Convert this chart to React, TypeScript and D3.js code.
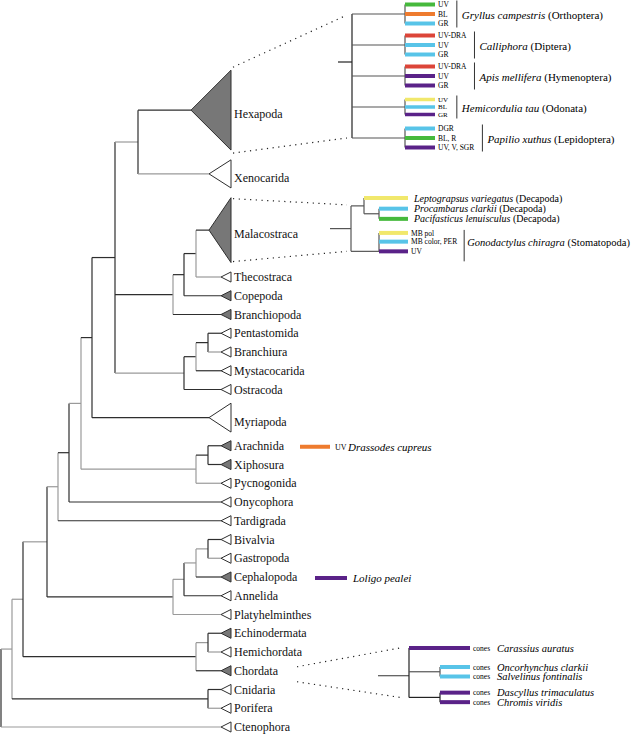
import React from "react";
import * as d3 from "d3";

// ---------- main tree data ----------
const NODE_IDS = ["root", "n12", "n23", "n47", "n58", "n69", "n81", "n92", "n115", "n138", "c173", "c184", "c196", "o184", "o196", "o208", "a196", "a208", "s173", "s184", "s196", "s208", "d196", "d208", "cp208"];
const NODE_PARENTS = ["", "root", "n12", "n23", "n47", "n58", "n69", "n81", "n92", "n115", "n115", "c173", "c184", "n115", "o184", "o196", "n81", "a196", "n47", "s173", "s184", "s196", "n23", "d196", "n12"];
const NODE_DEPTH = [0, 11, 22, 46, 57, 68, 80, 91, 114, 137, 172, 183, 195, 183, 195, 207, 195, 207, 172, 183, 195, 207, 195, 207, 207];
const NODE_VTONE = ["d", "g", "d", "d", "g", "d", "g", "d", "d", "d", "g", "d", "g", "d", "g", "d", "g", "d", "g", "d", "g", "d", "g", "d", "d"];
const NODE_HTONE = ["d", "g", "g", "g", "g", "d", "g", "d", "d", "g", "d", "d", "d", "g", "d", "d", "g", "d", "d", "g", "g", "g", "d", "g", "d"];

const TAXA = ["Hexapoda", "Xenocarida", "Malacostraca", "Thecostraca", "Copepoda", "Branchiopoda", "Pentastomida", "Branchiura", "Mystacocarida", "Ostracoda", "Myriapoda", "Arachnida", "Xiphosura", "Pycnogonida", "Onycophora", "Tardigrada", "Bivalvia", "Gastropoda", "Cephalopoda", "Annelida", "Platyhelminthes", "Echinodermata", "Hemichordata", "Chordata", "Cnidaria", "Porifera", "Ctenophora"];
const TAXA_PARENT = ["n138", "n138", "c196", "c196", "c184", "c173", "o208", "o208", "o196", "o184", "n92", "a208", "a208", "a196", "n69", "n58", "s208", "s208", "s196", "s184", "s173", "d208", "d208", "d196", "cp208", "cp208", "root"];
const TAXA_ROW = [-8.9, -5.5, -2.5, 0, 1, 2, 3, 4, 5, 6, 7.5, 9, 10, 11, 12, 13, 14, 15, 16, 17, 18, 19, 20, 21, 22, 23, 24];
const TAXA_FILLED = [1, 0, 1, 0, 1, 1, 0, 0, 0, 0, 0, 1, 1, 0, 0, 0, 0, 0, 1, 0, 0, 1, 0, 1, 0, 0, 0];
const TAXA_HALF = [2.13, 0.75, 1.73, 0.27, 0.27, 0.27, 0.27, 0.27, 0.27, 0.27, 0.77, 0.27, 0.27, 0.27, 0.27, 0.27, 0.27, 0.27, 0.27, 0.27, 0.27, 0.27, 0.27, 0.27, 0.27, 0.27, 0.27];
const TAXA_SPAN = [40, 22, 22, 10, 10, 10, 10, 10, 10, 10, 22, 10, 10, 10, 10, 10, 10, 10, 10, 10, 10, 10, 10, 10, 10, 10, 10];
const TAXA_HTONE = ["d", "g", "d", "g", "d", "d", "d", "g", "d", "d", "d", "d", "d", "g", "d", "d", "d", "g", "d", "d", "g", "d", "g", "d", "d", "g", "g"];

// ---------- Hexapoda inset ----------
const HEX_SPECIES = ["Gryllus campestris", "Calliphora", "Apis mellifera", "Hemicordulia tau", "Papilio xuthus"];
const HEX_ORDER = ["Orthoptera", "Diptera", "Hymenoptera", "Odonata", "Lepidoptera"];
const HEX_RECEPTORS = [["UV", "BL", "GR"], ["UV-DRA", "UV", "GR"], ["UV-DRA", "UV", "GR"], ["UV", "BL", "GR"], ["DGR", "BL, R", "UV, V, SGR"]];
const HEX_COLORS = [["green", "orange", "blue"], ["red", "blue", "blue"], ["red", "purple", "purple"], ["yellow", "blue", "purple"], ["blue", "green", "purple"]];

// ---------- Malacostraca inset ----------
const MAL_DECAPODS = ["Leptograpsus variegatus", "Procambarus clarkii", "Pacifasticus lenuisculus"];
const MAL_DECAPOD_COLORS = ["yellow", "blue", "green"];
const MAL_STOMA = "Gonodactylus chiragra";
const MAL_STOMA_RECEPTORS = ["MB pol", "MB color, PER", "UV"];
const MAL_STOMA_COLORS = ["yellow", "blue", "purple"];
const MAL_ROWS = [0, 1.1, 2.15, 3.6, 4.5, 5.5];

// ---------- Chordata inset ----------
const FISH = ["Carassius auratus", "Oncorhynchus clarkii", "Salvelinus fontinalis", "Dascyllus trimaculatus", "Chromis viridis"];
const FISH_COLORS = ["purple", "blue", "blue", "purple", "purple"];
const FISH_ROWS = [0, 2, 3, 4.7, 5.7];

// ---------- single annotations ----------
const SPIDER = { taxon: "Arachnida", receptor: "UV", species: "Drassodes cupreus", color: "orange" };
const SQUID = { taxon: "Cephalopoda", species: "Loligo pealei", color: "purple" };

const COLORS: Record<string, string> = {
  green: "#46b93c",
  orange: "#ee7b2e",
  blue: "#58c4e8",
  red: "#dc4539",
  purple: "#5a2288",
  yellow: "#f1e86c",
};
const TONE: Record<string, string> = { d: "#2e2e2e", g: "#9a9a9a" };
const FONT = "'Liberation Serif', 'Times New Roman', serif";

let ctx: CanvasRenderingContext2D | null = null;
function measure(text: string, size: number, italic = false) {
  if (!ctx) ctx = document.createElement("canvas").getContext("2d");
  if (!ctx) return text.length * size * 0.5;
  ctx.font = `${italic ? "italic " : ""}${size}px 'Liberation Serif'`;
  return ctx.measureText(text).width;
}

function Bar({ x1, x2, y, color, w = 4 }: any) {
  return <line x1={x1} x2={x2} y1={y} y2={y} stroke={COLORS[color]} strokeWidth={w} />;
}

export default function App() {
  const W = 640, H = 734;
  const x = d3.scaleLinear().domain([0, 230]).range([1, 231]);
  const y = d3.scaleLinear().domain([0, 24]).range([277, 727]);
  const rowPx = y(1) - y(0);

  const table: any[] = [
    ...NODE_IDS.map((id, i) => ({ id, parent: NODE_PARENTS[i] || null, depth: NODE_DEPTH[i], v: NODE_VTONE[i], h: NODE_HTONE[i] })),
    ...TAXA.map((id, i) => ({ id, parent: TAXA_PARENT[i], leaf: true, row: TAXA_ROW[i], filled: TAXA_FILLED[i], half: TAXA_HALF[i], span: TAXA_SPAN[i], h: TAXA_HTONE[i] })),
  ];
  const root: any = d3.stratify<any>().id((d) => d.id).parentId((d) => d.parent)(table);
  root.eachAfter((n: any) => {
    n.minRow = n.children ? d3.min(n.children, (c: any) => c.minRow) : n.data.row;
  });
  root.sort((a: any, b: any) => a.minRow - b.minRow);
  root.eachAfter((n: any) => {
    if (n.children) {
      n.row = (n.children[0].row + n.children[n.children.length - 1].row) / 2;
      n.px = x(n.data.depth);
    } else {
      n.row = n.data.row;
      n.px = x(230 - n.data.span);
    }
    n.py = y(n.row);
  });

  const lines: any[] = [];
  const shapes: any[] = [];
  const labels: any[] = [];
  const leafPos: Record<string, number> = {};
  root.each((n: any) => {
    if (n.parent) {
      lines.push(<line key={"h" + n.id} x1={n.parent.px} x2={n.px} y1={n.py} y2={n.py} stroke={TONE[n.data.h]} strokeWidth={1.2} />);
    }
    if (n.children) {
      const c0 = n.children[0], c1 = n.children[n.children.length - 1];
      lines.push(<line key={"v" + n.id} x1={n.px} x2={n.px} y1={c0.py} y2={c1.py} stroke={TONE[n.data.v]} strokeWidth={1.2} />);
    } else {
      const half = n.data.half * rowPx;
      const xr = x(230);
      leafPos[n.id] = n.py;
      shapes.push(
        <polygon key={"t" + n.id} points={`${n.px},${n.py} ${xr},${n.py - half} ${xr},${n.py + half}`}
          fill={n.data.filled ? "#777777" : "#ffffff"} stroke="#2e2e2e" strokeWidth={1} strokeLinejoin="miter" />
      );
      labels.push(
        <text key={"l" + n.id} x={xr + 3} y={n.py + (half > 10 ? 4 : 0)} dy="0.35em" fontSize={12} fontFamily={FONT} fill="#111">{n.id}</text>
      );
    }
  });

  const inset = "#555";
  const barLab = 7.5;
  const nameSize = 11;

  // ----- Hexapoda inset -----
  const hexY = d3.scaleLinear().domain([0, HEX_SPECIES.length - 1]).range([14, 138]);
  const hexNodeX = 352, hexSpX = 405, hexBarEnd = 435;
  const hexStubY = (hexY(0) + hexY(HEX_SPECIES.length - 1)) / 2 - 14;
  const hexEls: any[] = [];
  hexEls.push(<line key="hs" x1={338} x2={hexNodeX} y1={hexStubY} y2={hexStubY} stroke="#222" strokeWidth={1.2} />);
  hexEls.push(<line key="hv" x1={hexNodeX} x2={hexNodeX} y1={hexY(0)} y2={hexY(HEX_SPECIES.length - 1)} stroke="#222" strokeWidth={1.2} />);
  HEX_SPECIES.forEach((sp, i) => {
    const cy = hexY(i);
    const gap = i === 3 ? 7.5 : 9.5;
    const ys = HEX_RECEPTORS[i].map((_, j) => cy + (j - 1) * gap);
    hexEls.push(<line key={"hb" + i} x1={hexNodeX} x2={hexSpX} y1={cy} y2={cy} stroke={inset} strokeWidth={1.2} />);
    hexEls.push(<line key={"hsv" + i} x1={hexSpX} x2={hexSpX} y1={ys[0]} y2={ys[2]} stroke={inset} strokeWidth={1.2} />);
    const maxW = d3.max(HEX_RECEPTORS[i], (r) => measure(r, barLab)) as number;
    HEX_RECEPTORS[i].forEach((r, j) => {
      hexEls.push(<Bar key={`hbar${i}${j}`} x1={hexSpX} x2={hexBarEnd} y={ys[j]} color={HEX_COLORS[i][j]} w={i === 3 ? 3.5 : 4} />);
      hexEls.push(<text key={`hl${i}${j}`} x={hexBarEnd + 3} y={ys[j]} dy="0.35em" fontSize={i === 3 ? 7 : barLab} fontFamily={FONT}>{r}</text>);
    });
    const sepX = hexBarEnd + 3 + maxW + 8;
    hexEls.push(<line key={"sep" + i} x1={sepX} x2={sepX} y1={ys[0] - 4} y2={ys[2] + 4} stroke="#333" strokeWidth={1} />);
    hexEls.push(
      <text key={"hn" + i} x={sepX + 5} y={cy + 1} dy="0.35em" fontSize={nameSize} fontFamily={FONT}>
        <tspan fontStyle="italic">{sp}</tspan> ({HEX_ORDER[i]})
      </text>
    );
  });

  // ----- Malacostraca inset -----
  const malY = d3.scaleLinear().domain([0, 1]).range([198, 207.7]);
  const mStubX = 330, mNode = 351, mDec = 364, mIn = 379, mEnd = 408;
  const my = MAL_ROWS.map((r) => malY(r));
  const pcNodeY = (my[1] + my[2]) / 2;
  const decNodeY = (my[0] + pcNodeY) / 2;
  const stomaY = my[5];
  const malRootY = (decNodeY + stomaY) / 2;
  const malEls: any[] = [
    <line key="ms" x1={mStubX} x2={mNode} y1={malRootY} y2={malRootY} stroke={inset} strokeWidth={1.2} />,
    <line key="mv" x1={mNode} x2={mNode} y1={decNodeY} y2={stomaY} stroke={inset} strokeWidth={1.2} />,
    <line key="md" x1={mNode} x2={mDec} y1={decNodeY} y2={decNodeY} stroke={inset} strokeWidth={1.2} />,
    <line key="mdv" x1={mDec} x2={mDec} y1={my[0]} y2={pcNodeY} stroke={inset} strokeWidth={1.2} />,
    <line key="mpc" x1={mDec} x2={mIn} y1={pcNodeY} y2={pcNodeY} stroke={inset} strokeWidth={1.2} />,
    <line key="mpcv" x1={mIn} x2={mIn} y1={my[1]} y2={my[2]} stroke={inset} strokeWidth={1.2} />,
    <line key="mst" x1={mNode} x2={mIn} y1={stomaY} y2={stomaY} stroke={inset} strokeWidth={1.2} />,
    <line key="mstv" x1={mIn} x2={mIn} y1={my[3]} y2={my[5]} stroke={inset} strokeWidth={1.2} />,
  ];
  MAL_DECAPODS.forEach((sp, i) => {
    malEls.push(<Bar key={"mb" + i} x1={i === 0 ? mDec : mIn} x2={mEnd} y={my[i]} color={MAL_DECAPOD_COLORS[i]} />);
    malEls.push(
      <text key={"mn" + i} x={mEnd + 6} y={my[i]} dy="0.35em" fontSize={10} fontFamily={FONT}>
        <tspan fontStyle="italic">{sp}</tspan> (Decapoda)
      </text>
    );
  });
  MAL_STOMA_RECEPTORS.forEach((r, j) => {
    malEls.push(<Bar key={"msb" + j} x1={mIn} x2={mEnd} y={my[3 + j]} color={MAL_STOMA_COLORS[j]} />);
    malEls.push(<text key={"msl" + j} x={mEnd + 3} y={my[3 + j]} dy="0.35em" fontSize={barLab} fontFamily={FONT}>{r}</text>);
  });
  const mSep = mEnd + 3 + (d3.max(MAL_STOMA_RECEPTORS, (r) => measure(r, barLab)) as number) + 7;
  malEls.push(<line key="msep" x1={mSep} x2={mSep} y1={my[3] - 3} y2={my[5] + 10} stroke="#333" strokeWidth={1} />);
  malEls.push(
    <text key="msn" x={mSep + 3} y={my[4] + 1} dy="0.35em" fontSize={10.5} fontFamily={FONT}>
      <tspan fontStyle="italic">{MAL_STOMA}</tspan> (Stomatopoda)
    </text>
  );

  // ----- Chordata inset -----
  const fY = d3.scaleLinear().domain([0, 1]).range([648, 657.5]);
  const fy = FISH_ROWS.map((r) => fY(r));
  const fStub = 378, fNode = 409, fIn = 440, fEnd = 470;
  const salNodeY = (fy[1] + fy[2]) / 2;
  const damNodeY = (fy[3] + fy[4]) / 2;
  const fRootY = (fy[0] + damNodeY) / 2 + 3;
  const fEls: any[] = [
    <line key="fs" x1={fStub} x2={fNode} y1={fRootY} y2={fRootY} stroke={inset} strokeWidth={1.2} />,
    <line key="fv" x1={fNode} x2={fNode} y1={fy[0]} y2={damNodeY} stroke="#222" strokeWidth={1.2} />,
    <line key="f1" x1={fNode} x2={fIn} y1={salNodeY} y2={salNodeY} stroke={inset} strokeWidth={1.2} />,
    <line key="f1v" x1={fIn} x2={fIn} y1={fy[1]} y2={fy[2]} stroke={inset} strokeWidth={1.2} />,
    <line key="f2" x1={fNode} x2={fIn} y1={damNodeY} y2={damNodeY} stroke="#222" strokeWidth={1.2} />,
    <line key="f2v" x1={fIn} x2={fIn} y1={fy[3]} y2={fy[4]} stroke="#222" strokeWidth={1.2} />,
  ];
  FISH.forEach((sp, i) => {
    fEls.push(<Bar key={"fb" + i} x1={i === 0 ? fNode : fIn} x2={fEnd} y={fy[i]} color={FISH_COLORS[i]} />);
    fEls.push(<text key={"fc" + i} x={fEnd + 3} y={fy[i]} dy="0.35em" fontSize={barLab} fontFamily={FONT}>cones</text>);
    fEls.push(<text key={"fn" + i} x={fEnd + 27} y={fy[i]} dy="0.35em" fontSize={10.5} fontFamily={FONT} fontStyle="italic">{sp}</text>);
  });

  // ----- dotted connectors -----
  const hexLeaf = TAXA.indexOf("Hexapoda"), malLeaf = TAXA.indexOf("Malacostraca");
  const hexTop = leafPos["Hexapoda"] - TAXA_HALF[hexLeaf] * rowPx;
  const hexBot = leafPos["Hexapoda"] + TAXA_HALF[hexLeaf] * rowPx;
  const malTop = leafPos["Malacostraca"] - TAXA_HALF[malLeaf] * rowPx;
  const malBot = leafPos["Malacostraca"] + TAXA_HALF[malLeaf] * rowPx;
  const cy = leafPos["Chordata"];
  const xr = x(230) + 2;
  const dots = [
    [xr, hexTop - 3, 347, hexY(0) + 1],
    [xr, hexBot + 3, 347, hexY(HEX_SPECIES.length - 1)],
    [xr, malTop + 1, 347, decNodeY - 1],
    [xr, malBot - 1, 347, stomaY],
    [297, cy - 4, 400, fy[0]],
    [297, cy + 11, 400, damNodeY],
  ];

  const spY = leafPos[SPIDER.taxon] + 1;
  const sqY = leafPos[SQUID.taxon] + 1;

  return (
    <svg width={W} height={H} style={{ position: "absolute", left: 0, top: 0, background: "#fff" }}>
      <rect width={W} height={H} fill="#fff" />
      {dots.map((d, i) => (
        <line key={"dot" + i} x1={d[0]} y1={d[1]} x2={d[2]} y2={d[3]} stroke="#222" strokeWidth={1.2} strokeDasharray="1.2,4.5" />
      ))}
      {lines}
      {shapes}
      {labels}
      {hexEls}
      {malEls}
      {fEls}
      <Bar x1={300} x2={330} y={spY} color={SPIDER.color} />
      <text x={335} y={spY} dy="0.35em" fontSize={8} fontFamily={FONT}>{SPIDER.receptor}</text>
      <text x={348} y={spY} dy="0.35em" fontSize={nameSize} fontFamily={FONT} fontStyle="italic">{SPIDER.species}</text>
      <Bar x1={315} x2={347} y={sqY} color={SQUID.color} />
      <text x={353} y={sqY} dy="0.35em" fontSize={nameSize} fontFamily={FONT} fontStyle="italic">{SQUID.species}</text>
    </svg>
  );
}
